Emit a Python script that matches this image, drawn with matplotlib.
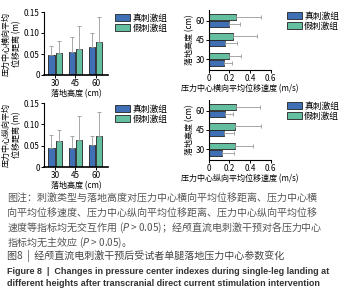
import matplotlib.pyplot as plt
import numpy as np
from matplotlib.patches import Patch

plt.rcParams['font.family'] = ['Noto Sans CJK SC', 'DejaVu Sans']

heights = ['30', '45', '60']
groups = ['真刺激组', '假刺激组']
c_blue = '#3f6fb4'
c_green = '#63bfa0'

# lateral displacement distance (m): mean, upper error
lat_dist_true = [0.047, 0.055, 0.066]
lat_dist_true_err = [0.023, 0.036, 0.033]
lat_dist_sham = [0.053, 0.061, 0.079]
lat_dist_sham_err = [0.027, 0.056, 0.060]

# lateral displacement velocity (m/s)
lat_vel_true = [0.15, 0.16, 0.20]
lat_vel_true_err = [0.07, 0.11, 0.10]
lat_vel_sham = [0.20, 0.23, 0.26]
lat_vel_sham_err = [0.11, 0.24, 0.25]

# longitudinal displacement distance (m)
lon_dist_true = [0.044, 0.046, 0.053]
lon_dist_true_err = [0.031, 0.027, 0.020]
lon_dist_sham = [0.061, 0.064, 0.074]
lon_dist_sham_err = [0.026, 0.056, 0.056]

# longitudinal displacement velocity (m/s)
lon_vel_true = [0.13, 0.15, 0.16]
lon_vel_true_err = [0.11, 0.09, 0.07]
lon_vel_sham = [0.25, 0.25, 0.26]
lon_vel_sham_err = [0.18, 0.26, 0.24]

fig = plt.figure(figsize=(3.48, 3.0), dpi=100)
fs = 5.8


def style(ax):
    for s in ['top', 'right']:
        ax.spines[s].set_visible(False)
    for s in ['left', 'bottom']:
        ax.spines[s].set_linewidth(0.8)
    ax.tick_params(labelsize=fs, width=0.7, length=2, pad=1)


def legend(ax, x, y):
    hs = [Patch(facecolor=c_blue, edgecolor='#222222', lw=0.6),
          Patch(facecolor=c_green, edgecolor='#222222', lw=0.6)]
    ax.legend(hs, groups, loc='upper left', bbox_to_anchor=(x, y), frameon=False,
              fontsize=6.3, handlelength=1.7, handleheight=0.8, labelspacing=0.1,
              borderaxespad=0, handletextpad=0.3)


def vbars(rect, t, te, s, se, ylabel):
    ax = fig.add_axes(rect)
    x = np.arange(len(heights))
    w = 0.31
    ekw = dict(ecolor='#999999', elinewidth=0.6, capsize=1.5, capthick=0.6)
    ax.bar(x - 0.18, t, w, color=c_blue, edgecolor='#222222', lw=0.6,
           yerr=[np.zeros(3), te], error_kw=ekw)
    ax.bar(x + 0.18, s, w, color=c_green, edgecolor='#222222', lw=0.6,
           yerr=[np.zeros(3), se], error_kw=ekw)
    ax.set_xlim(-0.55, 2.6)
    ax.set_ylim(0, 0.15)
    ax.set_yticks([0, 0.05, 0.10, 0.15])
    ax.set_yticklabels(['0', '0.05', '0.10', '0.15'])
    ax.set_xticks(x)
    ax.set_xticklabels(heights)
    ax.set_xlabel('落地高度 (cm)', fontsize=fs, labelpad=0.5)
    ax.set_ylabel(ylabel, fontsize=fs, labelpad=2, linespacing=1.2)
    style(ax)
    ax.spines['bottom'].set_linewidth(1.2)
    legend(ax, 1.06, 1.03)
    return ax


def hbars(rect, t, te, s, se, xlabel):
    ax = fig.add_axes(rect)
    y = np.arange(len(heights))
    h = 0.32
    ekw = dict(ecolor='#999999', elinewidth=0.6, capsize=1.5, capthick=0.6)
    ax.barh(y - 0.18, t, h, color=c_blue, edgecolor='#222222', lw=0.6,
            xerr=[np.zeros(3), te], error_kw=ekw)
    ax.barh(y + 0.18, s, h, color=c_green, edgecolor='#222222', lw=0.6,
            xerr=[np.zeros(3), se], error_kw=ekw)
    ax.set_ylim(-0.55, 2.55)
    ax.set_xlim(0, 0.6)
    ax.set_xticks([0, 0.2, 0.4, 0.6])
    ax.set_xticklabels(['0', '0.2', '0.4', '0.6'])
    ax.set_yticks(y)
    ax.set_yticklabels(heights)
    ax.set_ylabel('落地高度 (cm)', fontsize=fs, labelpad=1)
    ax.set_xlabel(xlabel, fontsize=fs, labelpad=1)
    style(ax)
    legend(ax, 1.2, 1.03)
    return ax


vbars([0.126, 0.75, 0.184, 0.21], lat_dist_true, lat_dist_true_err,
      lat_dist_sham, lat_dist_sham_err, '压力中心横向平均\n位移距离 (m)')
hbars([0.60, 0.767, 0.178, 0.20], lat_vel_true, lat_vel_true_err,
      lat_vel_sham, lat_vel_sham_err, '压力中心横向平均位移速度 (m/s)')
vbars([0.126, 0.443, 0.184, 0.213], lon_dist_true, lon_dist_true_err,
      lon_dist_sham, lon_dist_sham_err, '压力中心纵向平均\n位移距离 (m)')
hbars([0.60, 0.467, 0.178, 0.20], lon_vel_true, lon_vel_true_err,
      lon_vel_sham, lon_vel_sham_err, '压力中心纵向平均位移速度 (m/s)')

note = ['图注：刺激类型与落地高度对压力中心横向平均位移距离、压力中心横',
        '向平均位移速度、压力中心纵向平均位移距离、压力中心纵向平均位移',
        '速度等指标均无交互作用 ($P$ > 0.05)；经颅直流电刺激干预对各压力中心',
        '指标均无主效应 ($P$ > 0.05)。']
for i, line in enumerate(note):
    fig.text(7 / 348, 1 - (198 + 14.8 * i) / 300, line, fontsize=7.2,
             color='#555555', va='center', ha='left')
fig.text(7 / 348, 1 - 256 / 300, '图8  |  经颅直流电刺激干预后受试者单腿落地压力中心参数变化',
         fontsize=7.2, color='#444444', va='center', ha='left')
eng = ['Figure 8  |  Changes in pressure center indexes during single-leg landing at',
       'different heights after transcranial direct current stimulation intervention']
for i, line in enumerate(eng):
    fig.text(7 / 348, 1 - (271 + 13 * i) / 300, line, fontsize=6.5,
             color='#333333', va='center', ha='left', weight='bold',
             family=['Liberation Sans', 'DejaVu Sans'])

fig.savefig('out.png', dpi=100)
